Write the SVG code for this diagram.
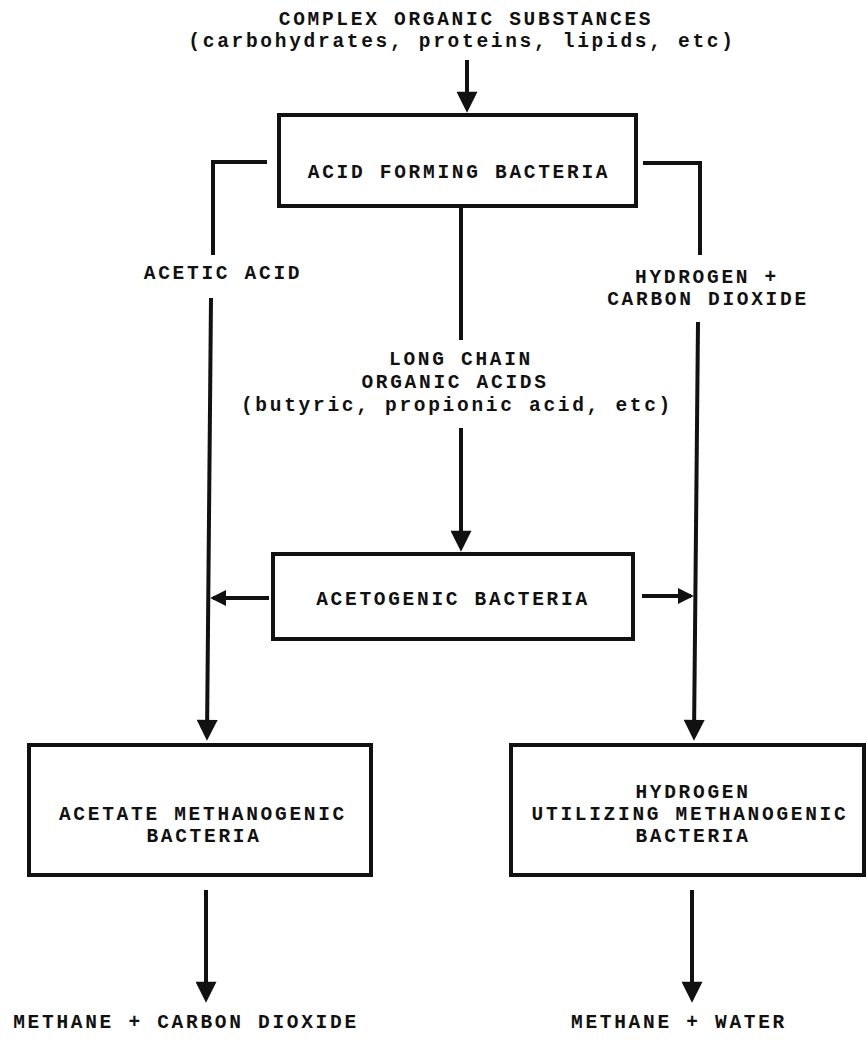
<svg xmlns="http://www.w3.org/2000/svg" width="867" height="1042" viewBox="0 0 867 1042">
<defs>
<style>
text{font-family:"Liberation Mono","DejaVu Sans Mono",monospace;font-weight:bold;font-size:19.5px;letter-spacing:2.7px;fill:#111}
.box{fill:none;stroke:#111;stroke-width:4}
.ln{fill:none;stroke:#111;stroke-width:4}
</style>
<marker id="ah" viewBox="0 0 10 10" refX="8.2" refY="5" markerWidth="26" markerHeight="21" markerUnits="userSpaceOnUse" orient="auto">
<path d="M0,0 L10,5 L0,10 z" fill="#111"/>
</marker>
<marker id="ahs" viewBox="0 0 10 10" refX="8.2" refY="5" markerWidth="16" markerHeight="18" markerUnits="userSpaceOnUse" orient="auto">
<path d="M0,0 L10,5 L0,10 z" fill="#111"/>
</marker>
</defs>
<rect width="867" height="1042" fill="#fff"/>
<g id="source">
<text x="466" y="25" text-anchor="middle">COMPLEX ORGANIC SUBSTANCES</text>
<text x="462" y="47" text-anchor="middle">(carbohydrates, proteins, lipids, etc)</text>
</g>
<g id="connectors">
<path class="ln" d="M467,60 V109" marker-end="url(#ah)"/>
<path class="ln" d="M267,162 H213 V255"/>
<path class="ln" d="M211,298 L207,737" marker-end="url(#ah)"/>
<path class="ln" d="M643,163 H700 V255"/>
<path class="ln" d="M698,322 L694,737" marker-end="url(#ah)"/>
<path class="ln" d="M461,206 V340"/>
<path class="ln" d="M461,428 V548" marker-end="url(#ah)"/>
<path class="ln" d="M269,598 H213" marker-end="url(#ahs)"/>
<path class="ln" d="M642,596 H691" marker-end="url(#ahs)"/>
<path class="ln" d="M206,890 V999" marker-end="url(#ah)"/>
<path class="ln" d="M692,890 V999" marker-end="url(#ah)"/>
</g>
<g id="acid-forming">
<rect class="box" x="279" y="115" width="357" height="91"/>
<text x="459" y="178" text-anchor="middle">ACID FORMING BACTERIA</text>
</g>
<g id="acetic-acid">
<text x="223" y="279" text-anchor="middle">ACETIC ACID</text>
</g>
<g id="hydrogen-co2">
<text x="707" y="283" text-anchor="middle">HYDROGEN +</text>
<text x="708" y="305" text-anchor="middle">CARBON DIOXIDE</text>
</g>
<g id="long-chain">
<text x="461" y="365" text-anchor="middle">LONG CHAIN</text>
<text x="455" y="388" text-anchor="middle">ORGANIC ACIDS</text>
<text x="457" y="411" text-anchor="middle">(butyric, propionic acid, etc)</text>
</g>
<g id="acetogenic">
<rect class="box" x="273" y="554" width="360" height="85"/>
<text x="453" y="605" text-anchor="middle">ACETOGENIC BACTERIA</text>
</g>
<g id="acetate-methanogenic">
<rect class="box" x="29" y="745" width="342" height="130"/>
<text x="203" y="820" text-anchor="middle">ACETATE METHANOGENIC</text>
<text x="204" y="842" text-anchor="middle">BACTERIA</text>
</g>
<g id="hydrogen-methanogenic">
<rect class="box" x="511" y="745" width="353" height="130"/>
<text x="693" y="798" text-anchor="middle">HYDROGEN</text>
<text x="690" y="820" text-anchor="middle">UTILIZING METHANOGENIC</text>
<text x="693" y="842" text-anchor="middle">BACTERIA</text>
</g>
<g id="methane-co2">
<text x="186" y="1028" text-anchor="middle">METHANE + CARBON DIOXIDE</text>
</g>
<g id="methane-water">
<text x="679" y="1028" text-anchor="middle">METHANE + WATER</text>
</g>
</svg>
